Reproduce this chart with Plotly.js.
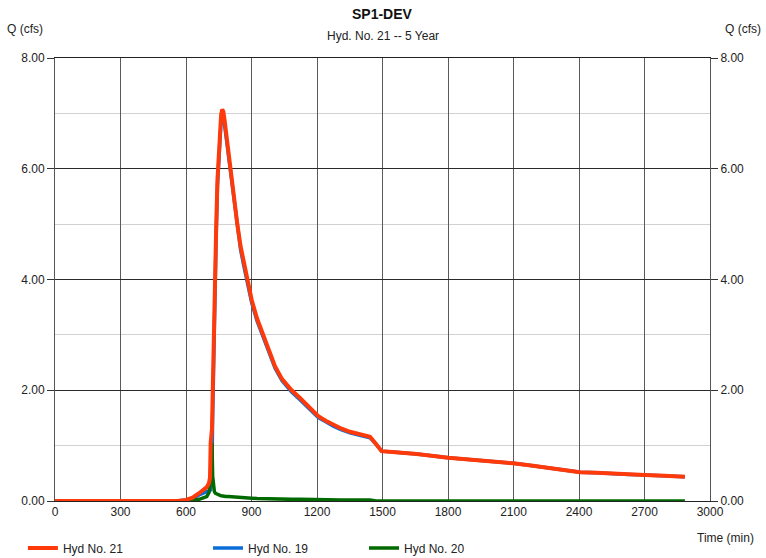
<!DOCTYPE html>
<html>
<head>
<meta charset="utf-8">
<script src="https://cdn.plot.ly/plotly-3.0.1.min.js"></script>
<style>html,body{margin:0;padding:0;background:#fff}#chart{width:766px;height:558px}</style>
</head>
<body>
<div id="chart"></div>
<script>
var timeMin = [0,560,600,630,660,680,695,705,710,713,716,719,722,726,730,734,738,744,751,756,761,766,771,776,782,794,806,820,835,850,865,881,901,925,954,980,1008,1040,1084,1122,1160,1206,1240,1275,1310,1351,1400,1443,1470,1496,1560,1657,1801,1947,2038,2099,2180,2252,2330,2405,2480,2557,2630,2702,2790,2885];

var hyd21 = [0,0,0.02,0.06,0.14,0.2,0.25,0.32,0.42,1.05,1.25,1.3,1.9,2.8,3.5,4.1,4.9,5.8,6.4,6.75,6.98,7.07,7.03,6.9,6.7,6.35,5.95,5.45,5.0,4.6,4.3,4.0,3.63,3.3,3.0,2.7,2.43,2.2,2.0,1.86,1.7,1.53,1.45,1.37,1.31,1.25,1.2,1.16,1.03,0.9,0.88,0.85,0.78,0.73,0.71,0.68,0.64,0.6,0.56,0.52,0.51,0.49,0.48,0.47,0.455,0.44];

var hyd19 = [0,0,0.02,0.05,0.11,0.15,0.17,0.17,0.18,0.2,0.3,0.6,1.5,2.55,3.3,3.95,4.77,5.68,6.29,6.65,6.89,6.98,6.94,6.81,6.62,6.27,5.875,5.38,4.935,4.54,4.24,3.945,3.58,3.255,2.96,2.66,2.395,2.17,1.97,1.83,1.675,1.505,1.43,1.35,1.29,1.23,1.18,1.14,1.03,0.9,0.88,0.85,0.78,0.73,0.71,0.68,0.64,0.6,0.56,0.52,0.51,0.49,0.48,0.47,0.455,0.44];

var hyd20 = [0,0,0,0.01,0.03,0.05,0.08,0.15,0.3,0.6,0.95,1.05,0.45,0.22,0.17,0.14,0.13,0.12,0.11,0.1,0.095,0.09,0.09,0.085,0.08,0.08,0.075,0.07,0.065,0.06,0.06,0.055,0.05,0.045,0.04,0.04,0.035,0.03,0.03,0.03,0.025,0.025,0.02,0.02,0.02,0.02,0.02,0.02,0,0,0,0,0,0,0,0,0,0,0,0,0,0,0,0,0,0];

var seriesNames = ['Hyd No. 21','Hyd No. 19','Hyd No. 20'];
var xTicks = [0,300,600,900,1200,1500,1800,2100,2400,2700,3000];
var yTicks = [0,2,4,6,8];
var yTickText = ['0.00','2.00','4.00','6.00','8.00'];

var FONT = 'Liberation Sans, Arial, sans-serif';

var traces = [
  {x: timeMin, y: hyd19, name: seriesNames[1], type:'scatter', mode:'lines',
   line:{color:'#0A6ED8', width:3.5}, legend:'legend2'},
  {x: timeMin, y: hyd20, name: seriesNames[2], type:'scatter', mode:'lines',
   line:{color:'#006A00', width:3.5}, legend:'legend3'},
  {x: timeMin, y: hyd21, name: seriesNames[0], type:'scatter', mode:'lines',
   line:{color:'#FF3A0A', width:4}, legend:'legend'},
  {x: [0,3000], y: [0,0], yaxis:'y2', type:'scatter', mode:'lines', showlegend:false,
   hoverinfo:'skip', line:{color:'rgba(0,0,0,0)', width:0}}
];

function leg(xp){
  return {orientation:'h', x:xp, xanchor:'left', y:-0.106, yanchor:'middle',
          font:{family:FONT, size:12, color:'#222'}, itemwidth:30, bgcolor:'rgba(0,0,0,0)'};
}

var layout = {
  width: 766, height: 558,
  margin: {l:55, r:56, t:58, b:57, autoexpand:false},
  paper_bgcolor:'#fff', plot_bgcolor:'#fff',
  font: {family: FONT, size: 12, color:'#222'},
  showlegend: true,
  legend: leg(-0.049),
  legend2: leg(0.2336),
  legend3: leg(0.4718),
  xaxis: {range:[0,3000], tickvals:xTicks, ticktext:xTicks.map(String), showgrid:true,
          gridcolor:'#5a5a5a', gridwidth:1, zeroline:false, showline:true, linecolor:'#222',
          linewidth:1, mirror:true, ticks:'', tickfont:{size:12, color:'#222'}},
  yaxis: {range:[0,8], tickvals:yTicks, ticktext:yTickText, showgrid:true, gridcolor:'#2a2a2a',
          gridwidth:1, zeroline:false, showline:true, linecolor:'#555', linewidth:1,
          ticks:'outside', ticklen:7, tickcolor:'#333', tickfont:{size:12, color:'#222'},
          minor:{tickvals:[1,3,5,7], showgrid:true, gridcolor:'#d2d2d2', gridwidth:1, ticks:''}},
  yaxis2: {range:[0,8], overlaying:'y', side:'right', tickvals:yTicks, ticktext:yTickText,
           showgrid:false, zeroline:false, showline:true, linecolor:'#555', linewidth:1,
           ticks:'outside', ticklen:7, tickcolor:'#333', tickfont:{size:12, color:'#222'}},
  annotations: [
    {text:'<b>SP1-DEV</b>', xref:'paper', yref:'paper', x:0.5, y:1, yshift:44, xanchor:'center',
     yanchor:'middle', showarrow:false, font:{family:FONT, size:14, color:'#111'}},
    {text:'Hyd. No. 21 -- 5 Year', xref:'paper', yref:'paper', x:0.5, y:1, yshift:22, xanchor:'center',
     yanchor:'middle', showarrow:false, font:{family:FONT, size:12, color:'#222'}},
    {text:'Q (cfs)', xref:'paper', yref:'paper', x:0, xshift:-50, y:1, yshift:29, xanchor:'left',
     yanchor:'middle', showarrow:false, font:{family:FONT, size:12, color:'#222'}},
    {text:'Q (cfs)', xref:'paper', yref:'paper', x:1, xshift:13, y:1, yshift:29, xanchor:'left',
     yanchor:'middle', showarrow:false, font:{family:FONT, size:12, color:'#222'}},
    {text:'Time (min)', xref:'paper', yref:'paper', x:1, xshift:46, y:0, yshift:-37, xanchor:'right',
     yanchor:'middle', showarrow:false, font:{family:FONT, size:12, color:'#222'}}
  ]
};

Plotly.newPlot('chart', traces, layout, {displayModeBar:false, staticPlot:true});
</script>
</body>
</html>
